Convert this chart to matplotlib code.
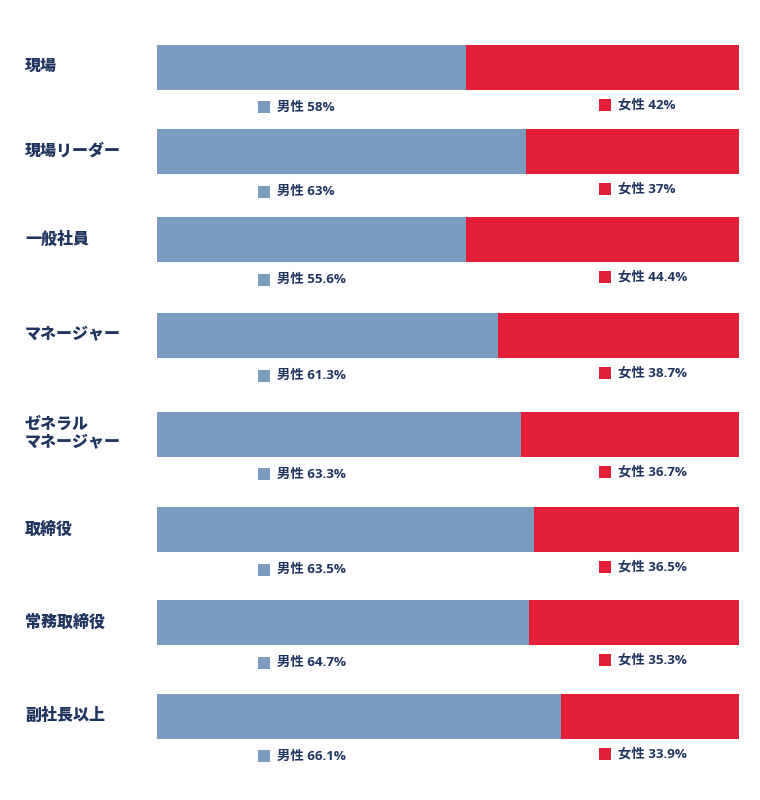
import matplotlib
matplotlib.use('Agg')
import matplotlib.pyplot as plt
from matplotlib.transforms import blended_transform_factory

plt.rcParams['font.family'] = ['Open Sans', 'Noto Sans CJK JP', 'DejaVu Sans']

# データ
categories = ['現場', '現場リーダー', '一般社員', 'マネージャー',
              'ゼネラル\nマネージャー', '取締役', '常務取締役', '副社長以上']
male_pct = [58, 63, 55.6, 61.3, 63.3, 63.5, 64.7, 66.1]      # ラベル表示値
female_pct = [42, 37, 44.4, 38.7, 36.7, 36.5, 35.3, 33.9]
male_bar = [53.1, 63.4, 53.1, 58.6, 62.5, 64.7, 64.0, 69.4]  # 図中の棒の長さ(%)

# レイアウト（ピクセル）
row_top = [44.7, 129, 217.3, 313.3, 411.7, 507.3, 600.3, 693.7]
bar_h = 45

c_male = '#7b9cc0'
c_female = '#e31e37'
c_text = '#1f345f'

W, H = 760, 800
fig = plt.figure(figsize=(W / 100, H / 100), dpi=100)
ax = fig.add_axes([157 / W, 0, 582 / W, 1])
ax.set_xlim(0, 100)
ax.set_ylim(H, 0)
ax.axis('off')

centers = [t + bar_h / 2 for t in row_top]
female_bar = [100 - m for m in male_bar]
ax.barh(centers, male_bar, height=bar_h, color=c_male, linewidth=0)
ax.barh(centers, female_bar, left=male_bar, height=bar_h, color=c_female, linewidth=0)

# 左側のカテゴリ名
tr = blended_transform_factory(fig.transFigure, ax.transData)
for c, name in zip(centers, categories):
    ax.text(25 / W, c - 1, name, transform=tr, ha='left', va='center',
            fontsize=11.5, fontweight='heavy', color=c_text,
            family=['Noto Sans CJK JP', 'DejaVu Sans'], linespacing=1.25)

# 棒の下の凡例ラベル
sq_male_x = (263.8 - 157) / 582 * 100
sq_female_x = (604.8 - 157) / 582 * 100
txt_off = 13.3 / 582 * 100
for t, m, f in zip(row_top, male_pct, female_pct):
    ym = t + bar_h + 17.5
    yf = t + bar_h + 15
    ax.scatter([sq_male_x], [ym], marker='s', s=(8.8) ** 2, color=c_male, linewidths=0)
    ax.scatter([sq_female_x], [yf], marker='s', s=(8.8) ** 2, color=c_female, linewidths=0)
    ax.text(sq_male_x + txt_off, ym, f'男性 {m:g}%', ha='left', va='center',
            fontsize=9.6, fontweight='bold', color=c_text)
    ax.text(sq_female_x + txt_off, yf, f'女性 {f:g}%', ha='left', va='center',
            fontsize=9.6, fontweight='bold', color=c_text)

fig.savefig('out.png', dpi=100)
